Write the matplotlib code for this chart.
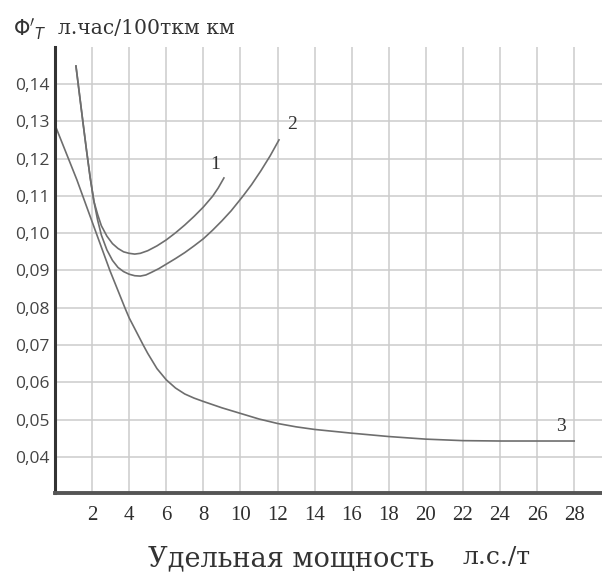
import matplotlib
matplotlib.use("Agg")
import matplotlib.pyplot as plt

# curve 1 (upper U)
x1 = [1.13, 1.3, 1.5, 1.7, 1.9, 2.1, 2.3, 2.5, 2.8, 3.1, 3.4, 3.7, 4.0, 4.3, 4.6,
      5.0, 5.5, 6.0, 6.5, 7.0, 7.5, 8.0, 8.5, 8.8, 9.11]
y1 = [0.1448, 0.138, 0.130, 0.1222, 0.1148, 0.1085, 0.105, 0.102, 0.0992, 0.0972, 0.0959, 0.095, 0.0946, 0.0944, 0.0946,
      0.0953, 0.0966, 0.0982, 0.1001, 0.1022, 0.1045, 0.107, 0.1099, 0.1121, 0.1148]

# curve 2 (lower U)
x2 = [1.13, 1.3, 1.5, 1.7, 1.9, 2.1, 2.3, 2.5, 2.8, 3.1, 3.4, 3.7, 4.0, 4.3, 4.6,
      4.9, 5.2, 5.6, 6.0, 6.5, 7.0, 7.5, 8.0, 8.5, 9.0, 9.5, 10.1, 10.6, 11.1, 11.6, 12.08]
y2 = [0.1448, 0.138, 0.130, 0.1222, 0.1148, 0.1085, 0.1035, 0.0995, 0.0955, 0.0927, 0.0908, 0.0897, 0.089, 0.0886, 0.0885,
      0.0888, 0.0895, 0.0905, 0.0917, 0.0932, 0.0948, 0.0966, 0.0985, 0.1008, 0.1033, 0.106, 0.1097, 0.113, 0.1167, 0.1207, 0.125]

# curve 3 (decreasing)
x3 = [0, 1.18, 2.16, 2.96, 3.77, 4.0, 4.76, 5.0, 5.5, 6.0, 6.5, 7.0, 7.5, 8.0, 9.0,
      10, 11, 12, 13, 14, 16, 18, 20, 22, 24, 26, 28]
y3 = [0.129, 0.1143, 0.1009, 0.09, 0.08, 0.0773, 0.07, 0.0678, 0.0637, 0.0607, 0.0585, 0.0569, 0.0558, 0.0549, 0.0532,
      0.0517, 0.0502, 0.049, 0.0481, 0.0474, 0.0464, 0.0455, 0.0448, 0.0444, 0.0443, 0.0443, 0.0443]

x_ticks = [2, 4, 6, 8, 10, 12, 14, 16, 18, 20, 22, 24, 26, 28]
y_ticks = [0.04, 0.05, 0.06, 0.07, 0.08, 0.09, 0.10, 0.11, 0.12, 0.13, 0.14]
y_tick_labels = ["0,04", "0,05", "0,06", "0,07", "0,08", "0,09", "0,10", "0,11", "0,12", "0,13", "0,14"]

curve_labels = ["1", "2", "3"]
label_pos = [(8.63, 0.1183), (12.76, 0.129), (27.3, 0.0483)]

fig = plt.figure(figsize=(6.02, 5.72), dpi=100)
ax = fig.add_axes([55 / 602, 79.5 / 572, 1 - 55 / 602, 445.5 / 572])

line_col = "#6e6e6e"
for xs, ys in [(x1, y1), (x2, y2), (x3, y3)]:
    ax.plot(xs, ys, color=line_col, lw=1.2, solid_joinstyle="round")

for txt, (lx, ly) in zip(curve_labels, label_pos):
    ax.text(lx, ly, txt, fontsize=14, family="Liberation Serif", color="#333333",
            ha="center", va="center")

ax.set_xlim(0, 29.5)
ax.set_ylim(0.0305, 0.1499)
ax.set_xticks(x_ticks)
ax.set_xticklabels([str(t) for t in x_ticks], fontsize=15, family="Liberation Serif", color="#2e2e2e")
ax.set_yticks(y_ticks)
ax.set_yticklabels(y_tick_labels, fontsize=12.5, family="Open Sans", color="#444444")
ax.tick_params(axis="both", length=0)
ax.tick_params(axis="x", pad=10)
ax.tick_params(axis="y", pad=4)

ax.grid(True, color="#cccccc", lw=1.1)
ax.set_axisbelow(True)

for s in ["top", "right"]:
    ax.spines[s].set_visible(False)
ax.spines["left"].set_linewidth(2.2)
ax.spines["left"].set_color("#333333")
ax.spines["bottom"].set_linewidth(2.8)
ax.spines["bottom"].set_color("#555555")

# axis titles
fig.text(13 / 602, 1 - 29 / 572, r"$\Phi'_T$", fontsize=15, color="#333333",
         ha="left", va="center")
fig.text(58 / 602, 1 - 29 / 572, "л.час/100ткм км", fontsize=14.6, family="DejaVu Serif",
         color="#333333", ha="left", va="center")
fig.text(148 / 602, 1 - 559 / 572, "Удельная мощность", fontsize=19.5, family="DejaVu Serif",
         color="#333333", ha="left", va="center")
fig.text(463 / 602, 1 - 558 / 572, "л.с./т", fontsize=18, family="DejaVu Serif",
         color="#333333", ha="left", va="center")

fig.savefig("out.png", dpi=100)
